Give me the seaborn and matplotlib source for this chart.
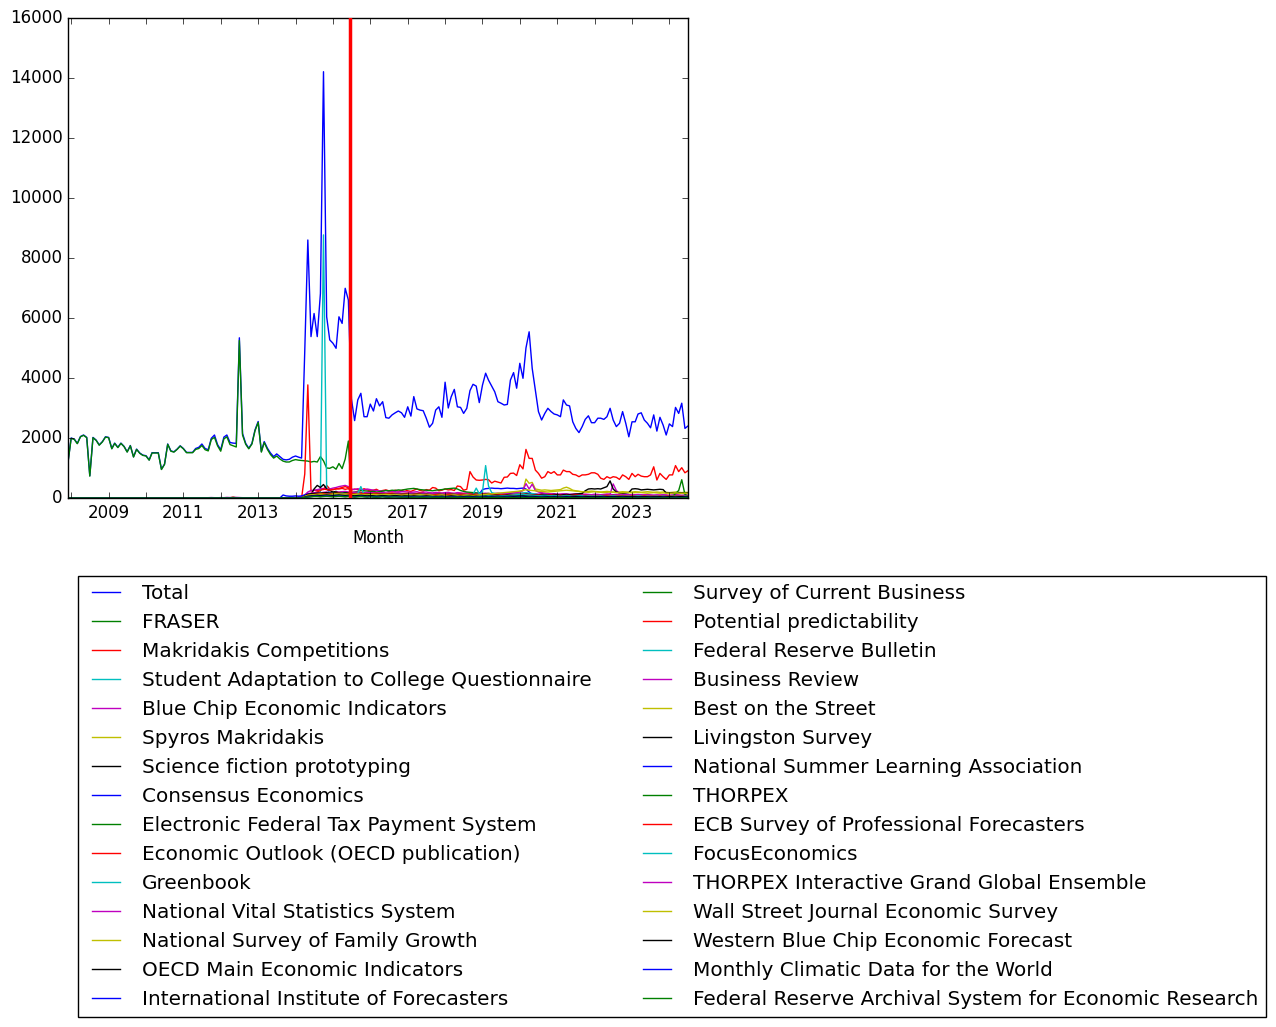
import pandas as pd
import seaborn as sns
import matplotlib
matplotlib.use("Agg")
import matplotlib.pyplot as plt
import matplotlib.dates as mdates
from matplotlib.ticker import FuncFormatter, MultipleLocator

# monthly page views, Dec 2007 .. Jul 2024
months = pd.Series(pd.date_range("2007-12-01", periods=200, freq="MS"), name="Month")
label_years = [2009, 2011, 2013, 2015, 2017, 2019, 2021, 2023]
switch_date = "2015-06-16"   # red marker

total = [1200, 2000, 1960, 1820, 2050, 2100, 2020, 740, 2020, 1930,
         1770, 1880, 2040, 2020, 1650, 1830, 1690, 1830, 1720, 1540,
         1750, 1375, 1630, 1500, 1430, 1410, 1270, 1510, 1510, 1510,
         960, 1130, 1800, 1570, 1540, 1630, 1740, 1650, 1520, 1520,
         1520, 1650, 1690, 1800, 1650, 1610, 1990, 2100, 1780, 1610,
         2030, 2100, 1850, 1830, 1820, 5340, 2150, 1820, 1660, 1820,
         2270, 2550, 1550, 1880, 1660, 1500, 1380, 1470, 1380, 1290,
         1270, 1290, 1360, 1400, 1360, 1330, 4900, 8600, 5380, 6150,
         5380, 6820, 14210, 6040, 5270, 5160, 4990, 6040, 5820, 6990,
         6600, 3300, 2580, 3270, 3490, 2710, 2710, 3130, 2900, 3310,
         3070, 3210, 2680, 2660, 2770, 2840, 2900, 2840, 2690, 3040,
         2730, 3380, 2970, 2930, 2910, 2660, 2360, 2490, 2930, 3040,
         2690, 3860, 3000, 3370, 3620, 3040, 3020, 2820, 2990, 3580,
         3790, 3730, 3180, 3760, 4160, 3930, 3730, 3540, 3210, 3160,
         3100, 3120, 3930, 4180, 3660, 4490, 3990, 5000, 5540, 4320,
         3600, 2880, 2600, 2820, 2990, 2880, 2800, 2770, 2710, 3270,
         3100, 3070, 2540, 2320, 2180, 2380, 2620, 2740, 2510, 2510,
         2660, 2660, 2620, 2710, 2990, 2600, 2380, 2490, 2880, 2490,
         2040, 2540, 2540, 2800, 2840, 2600, 2490, 2340, 2770, 2230,
         2690, 2430, 2100, 2470, 2380, 3020, 2820, 3160, 2320, 2400]

fraser = [1180, 1990, 1950, 1810, 2040, 2090, 2010, 730, 2010, 1920,
          1760, 1870, 2030, 2010, 1640, 1820, 1680, 1820, 1710, 1530,
          1740, 1365, 1620, 1490, 1420, 1400, 1260, 1500, 1500, 1500,
          950, 1120, 1790, 1560, 1530, 1620, 1730, 1640, 1510, 1510,
          1510, 1620, 1650, 1750, 1610, 1570, 1950, 2020, 1740, 1560,
          1970, 2040, 1780, 1740, 1700, 5250, 2100, 1790, 1640, 1800,
          2240, 2520, 1530, 1850, 1620, 1450, 1330, 1400, 1300, 1230,
          1200, 1200, 1250, 1280, 1260, 1250, 1240, 1230, 1200, 1220,
          1200, 1380, 1240, 1000, 990, 1040, 960, 1150, 980, 1300,
          1900, 60, 80, 70, 90, 60, 70, 100, 80, 60,
          70, 80, 90, 80, 70, 60, 70, 80, 70, 60,
          70, 60, 70, 80, 70, 60, 50, 60, 70, 60,
          50, 60, 70, 60, 50, 60, 50, 40, 50, 60,
          50, 60, 50, 40, 50, 60, 50, 40, 50, 45,
          40, 50, 60, 50, 40, 50, 40, 50, 60, 50,
          40, 50, 40, 35, 40, 50, 40, 35, 40, 45,
          40, 35, 40, 45, 40, 35, 30, 35, 40, 35,
          30, 35, 40, 35, 30, 35, 30, 35, 40, 35,
          30, 35, 30, 25, 30, 35, 30, 25, 30, 30,
          30, 25, 30, 35, 30, 25, 30, 25, 30, 30]

makridakis_comp = [0] * 70 + [
    0, 0, 0, 0, 0, 0, 800, 3770, 230, 260,
    240, 300, 280, 420, 300, 280, 310, 300, 320, 290,
    310, 260, 300, 280, 250, 310, 270, 240, 260, 290,
    230, 250, 270, 240, 220, 260, 230, 250, 280, 240,
    220, 260, 300, 250, 230, 280, 260, 350, 330, 240,
    260, 300, 270, 280, 250, 400, 380, 260, 290, 880,
    700, 600, 590, 600, 620, 610, 500, 560, 530, 500,
    690, 700, 820, 830, 750, 1110, 970, 1620, 1320, 1320,
    930, 820, 660, 710, 880, 820, 880, 770, 770, 930,
    880, 880, 790, 770, 710, 770, 770, 790, 840, 840,
    790, 660, 620, 710, 660, 710, 690, 620, 770, 710,
    620, 820, 710, 790, 730, 710, 710, 770, 1040, 600,
    820, 710, 620, 770, 770, 1080, 880, 1010, 840, 910]

student_adapt = [0] * 70 + [
    0, 0, 0, 0, 0, 0, 60, 120, 140, 150,
    160, 200, 8770, 300, 180, 160, 170, 150, 160, 170,
    140, 150, 130, 140, 120, 130, 150, 140, 120, 130,
    110, 120, 130, 110, 120, 100, 110, 130, 120, 110,
    100, 110, 120, 100, 90, 110, 100, 120, 110, 100,
    90, 100, 110, 100, 90, 100, 110, 90, 100, 95,
    90, 100, 95, 85, 90, 100, 95, 90, 80, 85,
    90, 80, 85, 90, 95, 100, 110, 95, 90, 85,
    80, 85, 90, 80, 75, 85, 90, 80, 75, 80,
    85, 80, 75, 70, 80, 85, 80, 75, 70, 75,
    80, 75, 70, 75, 80, 70, 75, 80, 70, 65,
    70, 75, 80, 70, 65, 70, 75, 70, 65, 70,
    65, 70, 75, 70, 65, 60, 70, 65, 60, 65]

blue_chip = [0] * 70 + [
    0, 0, 0, 0, 0, 0, 100, 200, 250, 260,
    280, 300, 320, 290, 300, 330, 350, 380, 400, 420,
    380, 300, 280, 310, 290, 270, 300, 280, 260, 250,
    240, 230, 250, 220, 230, 210, 200, 220, 210, 200,
    190, 200, 210, 180, 190, 200, 180, 170, 190, 180,
    170, 180, 190, 170, 160, 180, 170, 160, 170, 160,
    150, 160, 170, 150, 160, 150, 140, 150, 160, 150,
    140, 150, 160, 150, 140, 150, 160, 150, 140, 130,
    140, 130, 140, 150, 140, 130, 140, 130, 120, 130,
    130, 120, 130, 140, 130, 120, 130, 120, 110, 120,
    120, 110, 120, 130, 120, 110, 120, 110, 100, 110,
    110, 100, 110, 120, 110, 100, 110, 100, 90, 100,
    100, 110, 100, 90, 100, 110, 100, 90, 100, 95]

spyros = [0] * 53 + [40] + [0] * 16 + [
    0, 0, 0, 0, 0, 0, 40, 70, 80, 90,
    80, 90, 100, 90, 80, 90, 100, 90, 80, 90,
    80, 70, 80, 90, 80, 70, 80, 90, 80, 70,
    80, 90, 80, 70, 80, 90, 100, 90, 80, 90,
    100, 90, 80, 90, 100, 110, 100, 90, 100, 110,
    120, 110, 100, 110, 120, 130, 120, 110, 120, 130,
    140, 130, 120, 130, 140, 150, 140, 130, 140, 150,
    160, 170, 180, 190, 200, 220, 250, 630, 490, 520,
    300, 280, 260, 270, 260, 250, 260, 270, 280, 330,
    360, 320, 260, 240, 220, 200, 210, 220, 230, 220,
    210, 200, 210, 220, 210, 200, 190, 200, 210, 200,
    190, 200, 210, 200, 190, 200, 210, 200, 190, 200,
    190, 200, 190, 180, 190, 200, 190, 180, 190, 185]

scifi_proto = [0] * 70 + [
    0, 0, 0, 0, 0, 0, 50, 90, 110, 300,
    420, 350, 450, 300, 250, 200, 220, 180, 200, 190,
    180, 60, 70, 60, 50, 60, 70, 60, 50, 60,
    50, 60, 70, 60, 50, 40, 50, 60, 50, 40,
    50, 60, 50, 40, 50, 60, 50, 40, 50, 45,
    40, 50, 60, 50, 40, 50, 45, 40, 50, 45,
    40, 45, 50, 40, 35, 40, 45, 40, 35, 40,
    45, 40, 35, 40, 45, 40, 35, 40, 45, 40,
    35, 40, 45, 40, 35, 30, 35, 40, 35, 30,
    35, 40, 35, 30, 35, 40, 35, 30, 35, 30,
    35, 30, 35, 40, 35, 30, 35, 30, 35, 30,
    30, 35, 30, 25, 30, 35, 30, 25, 30, 30,
    25, 30, 35, 30, 25, 30, 35, 30, 25, 30]

consensus = [0] * 70 + [
    0, 0, 0, 0, 0, 0, 80, 120, 130, 140,
    150, 160, 140, 150, 160, 170, 150, 160, 140, 150,
    140, 130, 150, 140, 130, 140, 120, 130, 140, 120,
    130, 120, 110, 120, 130, 120, 110, 120, 110, 100,
    110, 120, 110, 100, 110, 100, 110, 120, 110, 100,
    110, 100, 90, 100, 110, 100, 90, 100, 110, 100,
    110, 120, 130, 280, 310, 320, 330, 320, 320, 310,
    320, 330, 320, 320, 310, 320, 330, 300, 200, 120,
    100, 90, 100, 110, 100, 90, 100, 90, 80, 90,
    100, 90, 80, 90, 100, 90, 80, 90, 80, 70,
    80, 90, 80, 70, 80, 90, 80, 70, 80, 70,
    80, 70, 60, 70, 80, 70, 60, 70, 80, 70,
    60, 70, 80, 70, 60, 70, 60, 50, 60, 55]

eftps = [0] * 70 + [
    0, 0, 0, 0, 0, 0, 60, 100, 120, 130,
    140, 150, 160, 150, 140, 130, 150, 160, 140, 150,
    160, 180, 200, 220, 250, 240, 230, 210, 220, 200,
    210, 230, 250, 240, 260, 250, 270, 260, 280, 300,
    310, 320, 300, 280, 270, 260, 250, 240, 260, 270,
    280, 300, 310, 320, 330, 300, 250, 220, 200, 190,
    180, 170, 160, 150, 140, 150, 140, 130, 140, 130,
    120, 130, 120, 110, 120, 130, 120, 110, 100, 110,
    100, 90, 100, 110, 100, 90, 100, 90, 80, 90,
    90, 80, 90, 80, 70, 80, 90, 80, 70, 80,
    80, 70, 80, 70, 60, 70, 80, 70, 60, 70,
    70, 60, 70, 60, 50, 60, 70, 60, 50, 60,
    60, 50, 60, 70, 60, 50, 60, 50, 60, 55]

econ_outlook = [0] * 70 + [
    0, 0, 0, 0, 0, 0, 70, 120, 150, 170,
    200, 250, 300, 280, 260, 280, 300, 320, 350, 380,
    340, 200, 180, 170, 190, 180, 170, 160, 180, 170,
    160, 170, 150, 160, 170, 160, 150, 140, 150, 160,
    150, 140, 150, 160, 150, 140, 130, 140, 150, 140,
    130, 140, 150, 140, 130, 140, 150, 140, 130, 140,
    130, 120, 130, 140, 130, 120, 130, 120, 110, 120,
    120, 110, 120, 130, 120, 130, 140, 130, 120, 110,
    100, 110, 100, 90, 100, 110, 100, 90, 100, 90,
    90, 100, 90, 80, 90, 100, 90, 80, 90, 80,
    80, 90, 80, 70, 80, 90, 80, 70, 80, 70,
    70, 80, 70, 60, 70, 80, 70, 60, 70, 65,
    60, 70, 80, 70, 60, 70, 60, 70, 60, 65]

greenbook = [0] * 70 + [
    0, 0, 0, 0, 0, 0, 50, 80, 90, 100,
    110, 120, 130, 120, 110, 130, 140, 130, 120, 130,
    120, 110, 100, 110, 100, 90, 100, 110, 100, 90,
    100, 110, 100, 90, 100, 90, 80, 90, 100, 90,
    80, 90, 100, 90, 80, 90, 80, 90, 100, 90,
    80, 90, 80, 70, 80, 90, 80, 70, 80, 90,
    80, 70, 80, 90, 80, 70, 80, 70, 60, 70,
    80, 70, 60, 70, 80, 90, 100, 80, 70, 60,
    70, 60, 70, 80, 70, 60, 70, 60, 50, 60,
    70, 60, 50, 60, 70, 60, 50, 60, 50, 60,
    50, 60, 50, 40, 50, 60, 50, 40, 50, 45,
    50, 40, 50, 60, 50, 40, 50, 40, 50, 45,
    40, 50, 40, 50, 40, 45, 50, 40, 45, 40]

nvss = [0] * 40 + [
    5, 10, 5, 10, 5, 10, 15, 10, 5, 15,
    10, 20, 15, 25, 20, 15, 10, 5, 10, 5,
    10, 5, 10, 5, 10, 5, 10, 5, 10, 5,
    10, 15, 20, 20, 30, 50, 100, 150, 160, 170,
    180, 170, 190, 200, 180, 170, 190, 200, 210, 220,
    200, 180, 190, 200, 180, 170, 190, 180, 170, 160,
    170, 180, 170, 160, 150, 160, 170, 160, 150, 140,
    150, 160, 150, 140, 150, 140, 130, 140, 150, 140,
    130, 140, 130, 120, 130, 140, 130, 120, 130, 120,
    110, 120, 130, 120, 110, 120, 110, 100, 110, 120,
    110, 100, 110, 120, 110, 100, 110, 100, 90, 100,
    100, 110, 100, 90, 100, 90, 100, 110, 100, 90,
    90, 100, 90, 80, 90, 100, 90, 80, 90, 80,
    90, 80, 90, 100, 90, 80, 90, 80, 70, 80,
    80, 90, 80, 70, 80, 90, 80, 70, 80, 75,
    70, 80, 70, 80, 70, 75, 80, 70, 75, 70]

nsfg = [0] * 70 + [
    0, 0, 0, 0, 0, 0, 40, 80, 100, 110,
    120, 130, 140, 130, 120, 130, 140, 150, 140, 130,
    140, 130, 120, 130, 140, 130, 120, 110, 120, 130,
    120, 110, 120, 130, 120, 110, 100, 110, 120, 110,
    100, 110, 120, 110, 100, 110, 100, 90, 100, 110,
    100, 90, 100, 110, 100, 90, 100, 110, 100, 90,
    100, 90, 80, 90, 100, 90, 80, 90, 100, 90,
    80, 90, 100, 90, 80, 90, 100, 110, 100, 90,
    80, 90, 80, 70, 80, 90, 80, 70, 80, 70,
    80, 70, 80, 90, 80, 70, 60, 70, 80, 70,
    70, 60, 70, 80, 70, 60, 70, 60, 70, 65,
    60, 70, 60, 50, 60, 70, 60, 50, 60, 55,
    60, 50, 60, 70, 60, 50, 60, 50, 55, 60]

oecd_mei = [0] * 70 + [
    0, 0, 0, 0, 0, 0, 50, 90, 100, 110,
    120, 110, 120, 130, 120, 110, 120, 130, 120, 110,
    100, 90, 100, 110, 100, 90, 80, 90, 100, 90,
    80, 90, 100, 90, 80, 90, 80, 70, 80, 90,
    80, 70, 80, 90, 80, 70, 80, 70, 80, 75,
    70, 80, 70, 60, 70, 80, 70, 60, 70, 65,
    60, 70, 60, 70, 60, 65, 70, 60, 55, 60,
    60, 55, 60, 65, 60, 55, 60, 55, 50, 55,
    50, 55, 60, 55, 50, 55, 50, 45, 50, 55,
    50, 45, 50, 55, 50, 45, 50, 45, 50, 45,
    40, 45, 50, 45, 40, 45, 50, 45, 40, 45,
    40, 45, 40, 35, 40, 45, 40, 35, 40, 40,
    35, 40, 45, 40, 35, 40, 35, 40, 35, 40]

iif = [0] * 69 + [100] + [
    70, 60, 60, 70, 60, 70, 100, 130, 140, 150,
    140, 130, 150, 140, 130, 140, 150, 140, 130, 140,
    130, 110, 100, 110, 120, 110, 100, 110, 100, 90,
    100, 90, 100, 110, 100, 90, 100, 90, 80, 90,
    100, 90, 80, 90, 100, 90, 80, 90, 80, 70,
    80, 90, 80, 70, 80, 90, 80, 70, 80, 75,
    70, 80, 70, 60, 70, 80, 70, 60, 70, 65,
    60, 70, 60, 70, 60, 70, 80, 70, 60, 55,
    60, 55, 60, 65, 60, 55, 50, 55, 60, 55,
    50, 55, 60, 55, 50, 45, 50, 55, 50, 45,
    50, 45, 40, 45, 50, 45, 40, 45, 50, 45,
    40, 45, 50, 45, 40, 45, 40, 35, 40, 45,
    40, 35, 40, 45, 40, 35, 40, 45, 40, 35]

survey_cb = [0] * 70 + [
    0, 0, 0, 0, 0, 0, 60, 110, 130, 140,
    150, 160, 170, 160, 150, 170, 180, 170, 160, 170,
    160, 150, 140, 150, 160, 150, 140, 130, 140, 150,
    140, 130, 140, 150, 140, 130, 120, 130, 140, 130,
    120, 130, 140, 130, 120, 130, 120, 110, 120, 130,
    120, 110, 120, 130, 120, 110, 120, 110, 100, 110,
    100, 110, 120, 110, 100, 110, 100, 90, 100, 110,
    100, 90, 100, 110, 100, 90, 100, 90, 80, 90,
    90, 80, 90, 100, 90, 80, 90, 80, 70, 80,
    80, 90, 80, 70, 80, 90, 80, 70, 80, 75,
    70, 80, 70, 60, 70, 80, 70, 60, 70, 65,
    70, 60, 70, 80, 70, 60, 70, 60, 65, 70,
    60, 70, 60, 65, 70, 60, 65, 60, 70, 60]

potential_pred = [0] * 70 + [
    0, 0, 0, 0, 0, 0, 30, 60, 70, 80,
    90, 80, 90, 100, 90, 80, 90, 100, 90, 80,
    90, 80, 70, 80, 90, 80, 70, 80, 70, 60,
    70, 80, 70, 60, 70, 80, 70, 60, 70, 65,
    60, 70, 60, 50, 60, 70, 60, 50, 60, 55,
    50, 60, 50, 45, 50, 60, 50, 45, 50, 55,
    50, 45, 50, 55, 50, 45, 40, 45, 50, 45,
    40, 45, 50, 45, 40, 45, 50, 45, 40, 45,
    40, 35, 40, 45, 40, 35, 40, 45, 40, 35,
    40, 35, 30, 35, 40, 35, 30, 35, 40, 35,
    30, 35, 40, 35, 30, 35, 30, 35, 40, 35,
    30, 35, 30, 25, 30, 35, 30, 25, 30, 30,
    25, 30, 35, 30, 25, 30, 25, 30, 35, 30]

fed_bulletin = [0] * 70 + [
    0, 0, 0, 0, 0, 0, 50, 80, 100, 110,
    120, 130, 120, 110, 120, 130, 140, 150, 160, 140,
    120, 110, 100, 150, 380, 120, 100, 90, 100, 110,
    100, 90, 100, 110, 100, 90, 80, 90, 100, 90,
    80, 90, 100, 90, 80, 90, 80, 70, 80, 90,
    80, 70, 80, 90, 80, 70, 80, 90, 100, 110,
    120, 330, 140, 200, 1080, 400, 180, 150, 140, 130,
    120, 130, 140, 130, 150, 160, 170, 180, 160, 150,
    130, 110, 100, 90, 80, 90, 80, 70, 80, 90,
    80, 70, 80, 90, 80, 70, 60, 70, 80, 70,
    70, 60, 70, 80, 70, 60, 70, 60, 50, 60,
    60, 70, 60, 50, 60, 70, 60, 50, 60, 55,
    50, 60, 50, 60, 50, 55, 60, 50, 55, 50]

business_review = [0] * 70 + [
    0, 0, 0, 0, 0, 0, 40, 70, 80, 90,
    100, 110, 120, 110, 100, 110, 120, 130, 120, 110,
    100, 110, 100, 90, 100, 110, 100, 90, 100, 110,
    100, 110, 120, 110, 100, 90, 100, 110, 100, 90,
    100, 90, 80, 90, 100, 110, 100, 90, 80, 90,
    100, 110, 100, 90, 100, 90, 80, 90, 100, 110,
    100, 90, 100, 110, 120, 110, 100, 110, 120, 130,
    140, 150, 160, 170, 180, 200, 250, 480, 300, 460,
    250, 200, 180, 160, 150, 140, 130, 120, 130, 140,
    130, 120, 110, 120, 130, 120, 110, 100, 110, 120,
    110, 100, 110, 120, 130, 470, 250, 150, 130, 120,
    110, 100, 110, 100, 90, 100, 110, 100, 90, 100,
    90, 100, 90, 80, 90, 100, 90, 80, 90, 85]

best_street = [0] * 70 + [
    0, 0, 0, 0, 0, 0, 30, 50, 60, 70,
    80, 90, 80, 70, 80, 90, 100, 90, 80, 90,
    80, 70, 80, 90, 80, 70, 80, 70, 60, 70,
    80, 70, 60, 70, 80, 70, 60, 70, 60, 50,
    60, 70, 60, 50, 60, 70, 60, 50, 60, 55,
    50, 60, 70, 60, 50, 60, 50, 45, 50, 55,
    60, 55, 50, 55, 60, 55, 50, 55, 60, 55,
    50, 55, 60, 55, 50, 55, 60, 55, 50, 45,
    50, 45, 50, 55, 50, 45, 50, 45, 40, 45,
    50, 45, 40, 45, 50, 45, 40, 45, 40, 35,
    40, 45, 40, 35, 40, 45, 40, 35, 40, 35,
    40, 35, 40, 45, 40, 35, 30, 35, 40, 35,
    30, 35, 40, 35, 30, 35, 30, 35, 30, 30]

livingston = [0] * 70 + [
    0, 0, 0, 0, 0, 0, 60, 120, 140, 150,
    160, 150, 170, 180, 160, 150, 170, 160, 150, 160,
    150, 130, 120, 130, 120, 110, 120, 130, 120, 110,
    120, 110, 120, 130, 120, 110, 100, 110, 120, 110,
    100, 110, 120, 110, 100, 110, 100, 90, 100, 110,
    100, 110, 100, 90, 100, 110, 100, 90, 100, 110,
    120, 110, 100, 110, 120, 110, 100, 110, 120, 110,
    100, 110, 120, 110, 100, 110, 120, 130, 120, 110,
    100, 110, 120, 110, 100, 110, 120, 110, 100, 110,
    120, 110, 120, 130, 140, 150, 240, 300, 310, 300,
    310, 300, 340, 380, 570, 300, 200, 170, 160, 170,
    180, 300, 310, 300, 270, 280, 290, 280, 270, 280,
    290, 280, 170, 160, 170, 160, 170, 160, 165, 170]

nsla = [0] * 70 + [
    0, 0, 0, 0, 0, 0, 30, 50, 60, 70,
    80, 70, 80, 90, 80, 70, 80, 90, 80, 70,
    80, 70, 60, 70, 80, 70, 60, 70, 60, 50,
    60, 70, 60, 50, 60, 70, 60, 50, 60, 55,
    50, 60, 50, 45, 50, 60, 50, 45, 50, 55,
    50, 45, 50, 55, 50, 45, 40, 45, 50, 45,
    40, 45, 50, 45, 40, 45, 50, 45, 40, 45,
    50, 45, 40, 45, 50, 60, 70, 60, 50, 45,
    40, 45, 40, 35, 40, 45, 40, 35, 40, 35,
    40, 35, 30, 35, 40, 35, 30, 35, 40, 35,
    30, 35, 40, 35, 30, 35, 30, 35, 40, 35,
    30, 35, 30, 25, 30, 35, 30, 25, 30, 30,
    25, 30, 35, 30, 25, 30, 25, 30, 35, 30]

thorpex = [0] * 70 + [
    0, 0, 0, 0, 0, 0, 40, 70, 80, 90,
    100, 90, 100, 110, 100, 90, 100, 110, 100, 90,
    100, 90, 80, 90, 100, 90, 80, 90, 80, 70,
    80, 90, 80, 70, 80, 90, 80, 70, 80, 75,
    70, 80, 70, 60, 70, 80, 70, 60, 70, 65,
    60, 70, 60, 55, 60, 70, 60, 55, 60, 65,
    60, 55, 60, 65, 60, 55, 50, 55, 60, 55,
    50, 55, 60, 55, 50, 55, 60, 55, 50, 55,
    50, 55, 50, 45, 50, 55, 50, 45, 50, 45,
    50, 45, 50, 55, 50, 45, 40, 45, 50, 45,
    40, 45, 50, 45, 40, 45, 40, 45, 50, 45,
    40, 45, 40, 35, 40, 45, 40, 35, 40, 40,
    40, 45, 40, 45, 40, 150, 250, 610, 120, 60]

ecb_spf = [0] * 70 + [
    0, 0, 0, 0, 0, 0, 50, 90, 110, 120,
    130, 140, 150, 140, 130, 140, 150, 160, 150, 140,
    150, 140, 130, 140, 150, 140, 130, 120, 130, 140,
    130, 120, 130, 140, 130, 120, 110, 120, 130, 120,
    110, 120, 130, 120, 110, 120, 110, 100, 110, 120,
    110, 100, 110, 120, 110, 100, 110, 100, 90, 100,
    100, 110, 100, 90, 100, 110, 100, 90, 100, 110,
    100, 90, 100, 110, 120, 130, 140, 120, 110, 100,
    90, 100, 90, 80, 90, 100, 90, 80, 90, 80,
    90, 80, 90, 100, 90, 80, 90, 80, 70, 80,
    80, 70, 80, 90, 80, 70, 80, 70, 80, 75,
    70, 80, 70, 60, 70, 80, 70, 60, 70, 65,
    70, 60, 70, 80, 70, 60, 70, 60, 65, 70]

focus_econ = [0] * 70 + [
    0, 0, 0, 0, 0, 0, 40, 70, 90, 100,
    110, 100, 110, 120, 110, 100, 110, 120, 130, 120,
    110, 100, 110, 120, 110, 100, 90, 100, 110, 100,
    90, 100, 110, 100, 90, 100, 90, 80, 90, 100,
    90, 80, 90, 100, 90, 80, 90, 80, 70, 80,
    90, 80, 70, 80, 90, 80, 70, 80, 90, 80,
    70, 80, 90, 80, 70, 80, 70, 60, 70, 80,
    70, 80, 90, 100, 110, 120, 130, 110, 100, 90,
    80, 70, 80, 90, 80, 70, 80, 70, 60, 70,
    80, 70, 60, 70, 80, 70, 60, 70, 60, 65,
    60, 70, 60, 50, 60, 70, 60, 50, 60, 55,
    60, 50, 60, 70, 60, 50, 60, 50, 55, 60,
    50, 60, 50, 55, 60, 50, 55, 50, 60, 55]

tigge = [0] * 70 + [
    0, 0, 0, 0, 0, 0, 20, 40, 50, 60,
    70, 60, 70, 80, 70, 60, 70, 80, 70, 60,
    60, 50, 60, 70, 60, 50, 60, 50, 40, 50,
    60, 50, 40, 50, 60, 50, 40, 50, 40, 45,
    50, 40, 45, 50, 40, 45, 50, 40, 45, 40,
    40, 45, 50, 45, 40, 35, 40, 45, 40, 35,
    40, 35, 40, 45, 40, 35, 30, 35, 40, 35,
    30, 35, 40, 35, 30, 35, 40, 35, 30, 35,
    30, 35, 30, 25, 30, 35, 30, 25, 30, 30,
    25, 30, 35, 30, 25, 30, 25, 30, 35, 30,
    25, 30, 25, 20, 25, 30, 25, 20, 25, 25,
    20, 25, 30, 25, 20, 25, 20, 25, 30, 25,
    20, 25, 20, 25, 20, 25, 20, 25, 20, 20]

wsj_survey = [0] * 70 + [
    0, 0, 0, 0, 0, 0, 50, 90, 100, 110,
    120, 130, 120, 110, 120, 130, 140, 130, 120, 130,
    120, 110, 120, 130, 120, 110, 100, 110, 120, 110,
    100, 110, 120, 110, 100, 110, 100, 90, 100, 110,
    100, 90, 100, 110, 100, 90, 100, 90, 80, 90,
    100, 90, 80, 90, 100, 90, 80, 90, 100, 90,
    80, 90, 100, 110, 120, 130, 140, 150, 160, 170,
    180, 190, 200, 210, 220, 230, 250, 280, 260, 250,
    240, 230, 220, 210, 200, 210, 220, 230, 240, 250,
    260, 250, 240, 230, 220, 210, 200, 190, 200, 210,
    200, 190, 180, 190, 200, 190, 180, 170, 180, 190,
    180, 170, 180, 190, 180, 170, 160, 170, 180, 170,
    160, 170, 160, 150, 160, 170, 160, 150, 160, 155]

western_bc = [0] * 70 + [
    0, 0, 0, 0, 0, 0, 30, 60, 70, 80,
    90, 80, 90, 100, 90, 80, 90, 100, 90, 80,
    90, 80, 70, 80, 90, 80, 70, 80, 70, 60,
    70, 80, 70, 60, 70, 80, 70, 60, 70, 65,
    60, 70, 60, 50, 60, 70, 60, 50, 60, 55,
    60, 50, 60, 70, 60, 50, 60, 50, 55, 60,
    50, 60, 50, 55, 60, 50, 55, 50, 60, 55,
    50, 55, 60, 55, 50, 55, 60, 55, 50, 55,
    50, 45, 50, 55, 50, 45, 50, 45, 50, 45,
    50, 45, 50, 55, 50, 45, 50, 45, 40, 45,
    40, 45, 50, 45, 40, 45, 40, 45, 50, 45,
    40, 45, 40, 35, 40, 45, 40, 35, 40, 40,
    40, 35, 40, 45, 40, 35, 40, 45, 40, 35]

climatic_data = [0] * 70 + [
    0, 0, 0, 0, 0, 0, 20, 40, 50, 60,
    60, 50, 60, 70, 60, 50, 60, 70, 60, 50,
    60, 50, 40, 50, 60, 50, 40, 50, 40, 35,
    40, 50, 40, 35, 40, 50, 40, 35, 40, 35,
    30, 35, 40, 35, 30, 35, 40, 35, 30, 35,
    30, 35, 30, 25, 30, 35, 30, 25, 30, 30,
    25, 30, 35, 30, 25, 30, 25, 30, 35, 30,
    25, 30, 25, 20, 25, 30, 25, 20, 25, 25,
    20, 25, 30, 25, 20, 25, 20, 25, 30, 25,
    20, 25, 20, 15, 20, 25, 20, 15, 20, 20,
    15, 20, 25, 20, 15, 20, 15, 20, 25, 20,
    15, 20, 15, 10, 15, 20, 15, 10, 15, 15,
    10, 15, 20, 15, 10, 15, 10, 15, 20, 15]

fed_archival = [0] * 70 + [
    0, 0, 0, 0, 0, 0, 20, 30, 40, 50,
    50, 40, 50, 60, 50, 40, 50, 60, 50, 40,
    50, 40, 30, 40, 50, 40, 30, 40, 30, 25,
    30, 40, 30, 25, 30, 40, 30, 25, 30, 25,
    20, 25, 30, 25, 20, 25, 30, 25, 20, 25,
    20, 25, 20, 15, 20, 25, 20, 15, 20, 20,
    15, 20, 25, 20, 15, 20, 15, 20, 25, 20,
    15, 20, 15, 10, 15, 20, 15, 10, 15, 15,
    10, 15, 20, 15, 10, 15, 10, 15, 20, 15,
    10, 15, 10, 5, 10, 15, 10, 5, 10, 10,
    5, 10, 15, 10, 5, 10, 5, 10, 15, 10,
    5, 10, 5, 0, 5, 10, 5, 0, 5, 5,
    0, 5, 10, 5, 0, 5, 0, 5, 10, 5]

names = ["Total", "FRASER", "Makridakis Competitions",
         "Student Adaptation to College Questionnaire",
         "Blue Chip Economic Indicators", "Spyros Makridakis",
         "Science fiction prototyping", "Consensus Economics",
         "Electronic Federal Tax Payment System",
         "Economic Outlook (OECD publication)", "Greenbook",
         "National Vital Statistics System", "National Survey of Family Growth",
         "OECD Main Economic Indicators", "International Institute of Forecasters",
         "Survey of Current Business", "Potential predictability",
         "Federal Reserve Bulletin", "Business Review", "Best on the Street",
         "Livingston Survey", "National Summer Learning Association", "THORPEX",
         "ECB Survey of Professional Forecasters", "FocusEconomics",
         "THORPEX Interactive Grand Global Ensemble",
         "Wall Street Journal Economic Survey", "Western Blue Chip Economic Forecast",
         "Monthly Climatic Data for the World",
         "Federal Reserve Archival System for Economic Research"]
values = [total, fraser, makridakis_comp, student_adapt, blue_chip, spyros,
          scifi_proto, consensus, eftps, econ_outlook, greenbook, nvss, nsfg,
          oecd_mei, iif, survey_cb, potential_pred, fed_bulletin, business_review,
          best_street, livingston, nsla, thorpex, ecb_spf, focus_econ, tigge,
          wsj_survey, western_bc, climatic_data, fed_archival]
colors = ["b", "g", "r", "c", "m", "y", "k"]

plt.style.use("classic")

fig = plt.figure(figsize=(12.76, 10.27), dpi=100, facecolor="white")
ax = fig.add_axes([68 / 1276, 1 - 498 / 1027, 620 / 1276, 480 / 1027])

for k, (name, vals) in enumerate(zip(names, values)):
    sns.lineplot(x=months, y=vals, color=colors[k % len(colors)], lw=1.0,
                 label=name, ax=ax)

ax.axvline(pd.Timestamp(switch_date), color="r", lw=2.5, zorder=5)

ax.set_xlim(months.iloc[0], months.iloc[-1])
ax.set_ylim(0, 16000)
ax.yaxis.set_major_locator(MultipleLocator(2000))
ax.xaxis.set_major_locator(mdates.YearLocator(1))
ax.xaxis.set_major_formatter(FuncFormatter(
    lambda v, pos: str(mdates.num2date(v).year)
    if mdates.num2date(v).year in label_years else ""))
ax.tick_params(labelsize=12)
ax.set_xlabel("Month", fontsize=12)
ax.set_ylabel("")

# classic legend defaults (large font, handlelength 2, labelspacing 0.5)
handles, labels = ax.get_legend_handles_labels()
ax.legend(handles, labels, loc="upper left",
          bbox_to_anchor=(78 / 1276, 1 - 576 / 1027),
          bbox_transform=fig.transFigure, ncol=2, borderaxespad=0,
          columnspacing=2.25, fancybox=False, edgecolor="black",
          framealpha=1)

fig.savefig("out.png", dpi=100, facecolor="white")
